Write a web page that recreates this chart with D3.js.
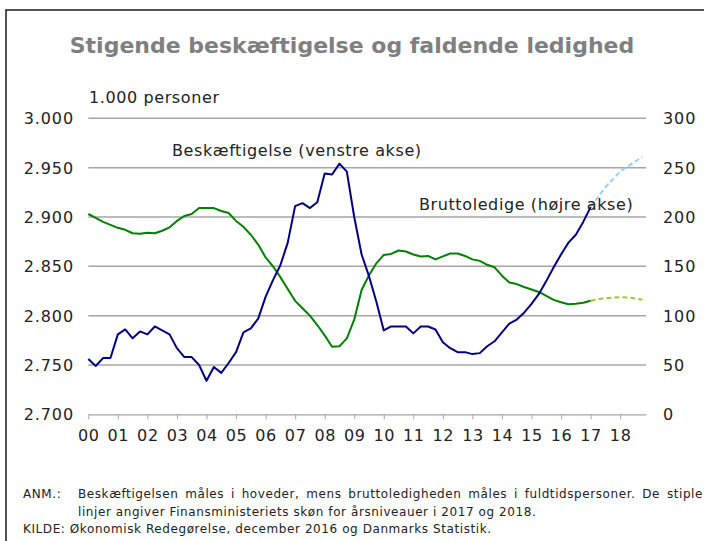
<!DOCTYPE html>
<html>
<head>
<meta charset="utf-8">
<script src="https://cdn.jsdelivr.net/npm/d3@7"></script>
<style>
  body { margin: 0; background: #fff; }
  text { font-family: "DejaVu Sans", Verdana, sans-serif; }
</style>
</head>
<body>
<div id="chart"></div>
<script>
// quarterly values, first point = 2000 Q1
const START_YEAR = 2000;
const yearTicks = d3.range(2000, 2019);
const yearLabels = ["00","01","02","03","04","05","06","07","08","09","10","11","12","13","14","15","16","17","18"];
const leftTicks = [2700, 2750, 2800, 2850, 2900, 2950, 3000];
const rightTicks = [0, 50, 100, 150, 200, 250, 300];

// Beskæftigelse, 1.000 personer (venstre akse)
const employment = [
  2756, 2749, 2757, 2757, 2781, 2786, 2777, 2784, 2781, 2789, 2785, 2781,
  2767, 2758, 2758, 2750, 2734, 2748, 2742, 2752, 2763, 2783, 2787, 2797,
  2819, 2836, 2851, 2874, 2911, 2914, 2909, 2915, 2944, 2943, 2954, 2946,
  2900, 2862, 2840, 2814, 2785, 2789, 2789, 2789, 2782, 2789, 2789, 2786,
  2773, 2767, 2763, 2763, 2761, 2762, 2769, 2774, 2783, 2792, 2796, 2803,
  2812, 2822, 2835, 2849, 2862, 2874, 2882, 2895, 2910
];
// Finansministeriets skøn (stiplet), starting 2017 Q1
const employmentForecast = [2910, 2920, 2930, 2938, 2946, 2951, 2956, 2961];

// Bruttoledige, 1.000 personer (højre akse)
const unemployment = [
  203, 199, 195, 192, 189, 187, 183.5, 183, 184, 183.5, 186, 189.5,
  196, 201, 203, 209, 209, 209, 206, 204, 196, 190, 182, 172,
  159, 150, 139, 127, 115, 107.5, 100, 90.5, 80, 68.5, 69, 77,
  96, 126, 141, 153, 161.5, 162.5, 166, 165, 162, 160, 160.5, 157,
  160, 163, 163, 160.5, 157, 155.5, 151.5, 149, 140.5, 133.5, 132, 129,
  126.5, 124, 120, 116, 113.5, 111.5, 112, 113, 115
];
const unemploymentForecast = [115, 116.5, 117.5, 118.3, 118.6, 118.4, 117.5, 116];

const width = 704, height = 541;
const margin = { top: 118.3, right: 58, bottom: 126.7, left: 88.3 };

const svg = d3.select("#chart").append("svg")
  .attr("width", width)
  .attr("height", height);

// frame
svg.append("rect")
  .attr("x", 6).attr("y", 10)
  .attr("width", 760).attr("height", 600)
  .attr("fill", "none")
  .attr("stroke", "#1a1a1a")
  .attr("stroke-width", 1.5);

svg.append("text")
  .attr("x", 352).attr("y", 53)
  .attr("text-anchor", "middle")
  .attr("font-size", 22)
  .attr("font-weight", "bold")
  .attr("fill", "#7f7f7f")
  .text("Stigende beskæftigelse og faldende ledighed");

const x = d3.scaleLinear()
  .domain([2000, 2018.875])
  .range([margin.left, width - margin.right]);
const yLeft = d3.scaleLinear()
  .domain([2700, 3000])
  .range([height - margin.bottom, margin.top]);
const yRight = d3.scaleLinear()
  .domain([0, 300])
  .range([height - margin.bottom, margin.top]);

// gridlines
svg.append("g").selectAll("line")
  .data(leftTicks.slice(1))
  .join("line")
  .attr("x1", x.range()[0]).attr("x2", x.range()[1])
  .attr("y1", d => yLeft(d)).attr("y2", d => yLeft(d))
  .attr("stroke", "#a6a6a6")
  .attr("stroke-width", 1.5);

// left axis labels
svg.append("g").selectAll("text")
  .data(leftTicks)
  .join("text")
  .attr("x", 74).attr("y", d => yLeft(d) + 6)
  .attr("text-anchor", "end")
  .attr("font-size", 16)
  .attr("letter-spacing", 0.9)
  .attr("fill", "#222")
  .text(d => d3.format(".3f")(d / 1000));

// right axis labels
svg.append("g").selectAll("text")
  .data(rightTicks)
  .join("text")
  .attr("x", 663).attr("y", d => yRight(d) + 6)
  .attr("font-size", 16)
  .attr("letter-spacing", 0.9)
  .attr("fill", "#222")
  .text(d => d);

svg.append("text")
  .attr("x", 89).attr("y", 103)
  .attr("font-size", 16)
  .attr("letter-spacing", 0.6)
  .attr("fill", "#222")
  .text("1.000 personer");

// x axis
const xAxis = d3.axisBottom(x)
  .tickValues(yearTicks)
  .tickSize(5)
  .tickSizeOuter(0)
  .tickFormat((d, i) => yearLabels[i]);

const gx = svg.append("g")
  .attr("transform", "translate(0," + yLeft(2700) + ")")
  .call(xAxis);
gx.select(".domain").attr("stroke", "#a6a6a6").attr("stroke-width", 1.2);
gx.selectAll(".tick line").attr("stroke", "#a6a6a6");
gx.selectAll(".tick text")
  .attr("y", 15)
  .attr("font-size", 16)
  .attr("letter-spacing", 0.6)
  .attr("font-family", "DejaVu Sans, Verdana, sans-serif")
  .attr("fill", "#222");

const t = i => START_YEAR + i / 4;
const forecastStart = employment.length - 1;

const lineLeft = d3.line().x((d, i) => x(t(i))).y(d => yLeft(d));
const lineRight = d3.line().x((d, i) => x(t(i))).y(d => yRight(d));
const fLineLeft = d3.line().x((d, i) => x(t(i + forecastStart))).y(d => yLeft(d)).curve(d3.curveMonotoneX);
const fLineRight = d3.line().x((d, i) => x(t(i + forecastStart))).y(d => yRight(d)).curve(d3.curveMonotoneX);

svg.append("path")
  .attr("d", fLineLeft(employmentForecast))
  .attr("fill", "none")
  .attr("stroke", "#99ccff")
  .attr("stroke-width", 2)
  .attr("stroke-dasharray", "5,3");
svg.append("path")
  .attr("d", fLineRight(unemploymentForecast))
  .attr("fill", "none")
  .attr("stroke", "#99cc33")
  .attr("stroke-width", 2)
  .attr("stroke-dasharray", "5,3");

svg.append("path")
  .attr("d", lineRight(unemployment))
  .attr("fill", "none")
  .attr("stroke", "#008000")
  .attr("stroke-width", 2)
  .attr("stroke-linejoin", "round");
svg.append("path")
  .attr("d", lineLeft(employment))
  .attr("fill", "none")
  .attr("stroke", "#000080")
  .attr("stroke-width", 2)
  .attr("stroke-linejoin", "round");

svg.append("text")
  .attr("x", 172).attr("y", 156)
  .attr("font-size", 16)
  .attr("letter-spacing", 0.6)
  .attr("fill", "#222")
  .text("Beskæftigelse (venstre akse)");
svg.append("text")
  .attr("x", 419).attr("y", 210)
  .attr("font-size", 16)
  .attr("letter-spacing", 0.6)
  .attr("fill", "#222")
  .text("Bruttoledige (højre akse)");

// footnote
const note = svg.append("g")
  .attr("font-size", 12)
  .attr("letter-spacing", 0.58)
  .attr("fill", "#222");
note.append("text").attr("x", 23).attr("y", 498).text("ANM.:");
const line1 = note.append("text").attr("x", 78).attr("y", 498)
  .text("Beskæftigelsen måles i hoveder, mens bruttoledigheden måles i fuldtidspersoner. De stiple");
const gaps = line1.text().split(" ").length - 1;
const extra = (703 - 78 - line1.node().getComputedTextLength()) / gaps;
if (extra > 0) line1.attr("word-spacing", extra);
note.append("text").attr("x", 78).attr("y", 515.5)
  .text("linjer angiver Finansministeriets skøn for årsniveauer i 2017 og 2018.");
note.append("text").attr("x", 23).attr("y", 533)
  .text("KILDE: Økonomisk Redegørelse, december 2016 og Danmarks Statistik.");
</script>
</body>
</html>
